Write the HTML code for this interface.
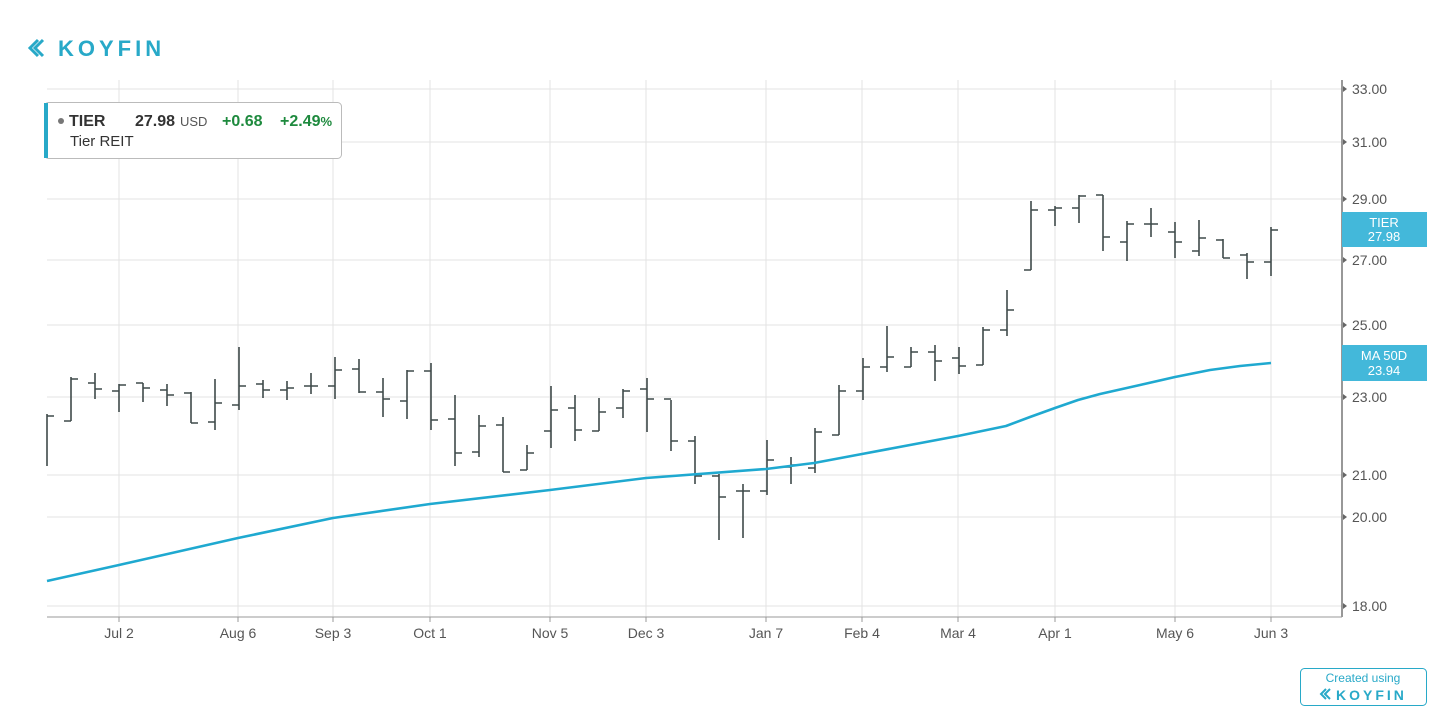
<!DOCTYPE html>
<html><head><meta charset="utf-8"><style>
body{margin:0;background:#fff;width:1456px;height:728px;overflow:hidden;font-family:"Liberation Sans",sans-serif}
svg{position:absolute;left:0;top:0}
</style></head><body>
<svg id="s" width="1456" height="728" xmlns="http://www.w3.org/2000/svg" font-family="Liberation Sans, sans-serif">
<g id="grid" stroke="#e3e3e3" stroke-width="1"></g>
<g id="bars" stroke="#3f4a4a" stroke-width="1.6" fill="none"></g>
<polyline id="ma" fill="none" stroke="#1fa9d0" stroke-width="2.6" stroke-linejoin="round"
 points="47,581 119,565 238,538 333,518 430,504 550,490 646,478 766,469 814,463 862,454 958,436 1006,426 1030,417 1055,408 1078,400 1100,394 1140,385 1175,377 1210,370 1240,366 1271,363"/>
<line x1="1342" y1="80" x2="1342" y2="617" stroke="#777" stroke-width="1.5"/>
<line x1="47" y1="617" x2="1342" y2="617" stroke="#999" stroke-width="1"/>
<g id="yl" font-size="14" fill="#555"></g>
<g id="xl" font-size="14" fill="#555" text-anchor="middle"></g>
<rect x="1342" y="212" width="85" height="35" fill="#43b8da"/>
<text x="1384" y="227" font-size="13" fill="#fff" text-anchor="middle">TIER</text>
<text x="1384" y="241" font-size="13" fill="#fff" text-anchor="middle">27.98</text>
<rect x="1342" y="345" width="85" height="36" fill="#43b8da"/>
<text x="1384" y="360" font-size="13" fill="#fff" text-anchor="middle">MA 50D</text>
<text x="1384" y="375" font-size="13" fill="#fff" text-anchor="middle">23.94</text>
<path d="M38,40 l-8,8 l8,8 M43,40 l-8,8 l8,8" stroke="#28a9c8" stroke-width="3" fill="none"/>
<text x="58" y="56" font-size="22" font-weight="bold" fill="#28a9c8" letter-spacing="4">KOYFIN</text>
<rect x="44.5" y="102.5" width="297" height="56" rx="4" fill="#fff" stroke="#bbb"/>
<rect x="44" y="103" width="4" height="55" fill="#28a9c8"/>
<circle cx="61" cy="121" r="3" fill="#777"/>
<text x="69" y="126" font-size="16" font-weight="bold" fill="#333">TIER</text>
<text x="135" y="126" font-size="16" font-weight="bold" fill="#333">27.98</text>
<text x="180" y="126" font-size="13" fill="#555">USD</text>
<text x="222" y="126" font-size="16" font-weight="bold" fill="#1e8a3e">+0.68</text>
<text x="280" y="126" font-size="16" font-weight="bold" fill="#1e8a3e">+2.49<tspan font-size="13">%</tspan></text>
<text x="70" y="146" font-size="15" fill="#333">Tier REIT</text>
<rect x="1300.5" y="668.5" width="126" height="37" rx="4" fill="#fff" stroke="#28a9c8"/>
<text x="1363" y="682" font-size="12" fill="#28a9c8" text-anchor="middle">Created using</text>
<path d="M1326,689 l-5,5 l5,5 M1330,689 l-5,5 l5,5" stroke="#28a9c8" stroke-width="2" fill="none"/>
<text x="1336" y="700" font-size="14" font-weight="bold" fill="#28a9c8" letter-spacing="3">KOYFIN</text>
</svg>
<script>
var NS="http://www.w3.org/2000/svg";
function el(p,t,a,txt){var e=document.createElementNS(NS,t);for(var k in a)e.setAttribute(k,a[k]);if(txt)e.textContent=txt;document.getElementById(p).appendChild(e);}
var ys=[[33,89],[31,142],[29,199],[27,260],[25,325],[23,397],[21,475],[20,517],[18,606]];
ys.forEach(function(v){el("grid","line",{x1:47,x2:1342,y1:v[1],y2:v[1]});
el("yl","text",{x:1352,y:v[1]+5},v[0].toFixed(2));
el("yl","path",{d:"M1343,"+(v[1]-3)+" l4,3 l-4,3z",fill:"#666"});});
var xs=[["Jul 2",119],["Aug 6",238],["Sep 3",333],["Oct 1",430],["Nov 5",550],["Dec 3",646],["Jan 7",766],["Feb 4",862],["Mar 4",958],["Apr 1",1055],["May 6",1175],["Jun 3",1271]];
xs.forEach(function(v){el("grid","line",{x1:v[1],x2:v[1],y1:80,y2:617});
el("xl","text",{x:v[1],y:638},v[0]);el("grid","line",{x1:v[1],x2:v[1],y1:617,y2:622,stroke:"#999"});});
var b=[[414,466,466,416],[377,421,421,379],[373,399,383,389],[384,412,391,385],[383,402,383,388],[384,406,390,395],[392,423,393,423],[379,430,422,403],[347,410,405,386],[380,398,384,390],[381,400,390,388],[373,394,386,386],[357,399,386,370],[359,393,369,392],[378,417,392,399],[370,419,401,371],[363,430,371,420],[395,466,419,453],[415,457,452,426],[417,472,425,472],[445,470,470,453],[386,448,431,410],[395,441,408,430],[398,431,431,412],[389,418,408,391],[378,432,389,399],[400,451,399,441],[436,484,441,476],[474,540,476,497],[484,538,491,491],[440,495,491,460],[457,484,467,465],[428,473,468,432],[385,435,435,391],[358,400,391,367],[326,372,367,357],[347,367,367,352],[345,381,352,361],[347,374,358,366],[327,365,365,330],[290,336,330,310],[201,270,270,210],[206,226,210,208],[195,223,208,196],[195,251,195,237],[221,261,242,224],[208,237,224,224],[222,258,232,242],[220,256,251,238],[239,258,240,258],[253,279,255,262],[227,276,262,230]];
b.forEach(function(v,i){var x=47+i*24;var d="M"+x+","+v[0]+"V"+v[1]+(i>0?"M"+(x-7)+","+v[2]+"H"+x:"")+"M"+x+","+v[3]+"H"+(x+7);el("bars","path",{d:d});});
</script>
</body></html>
